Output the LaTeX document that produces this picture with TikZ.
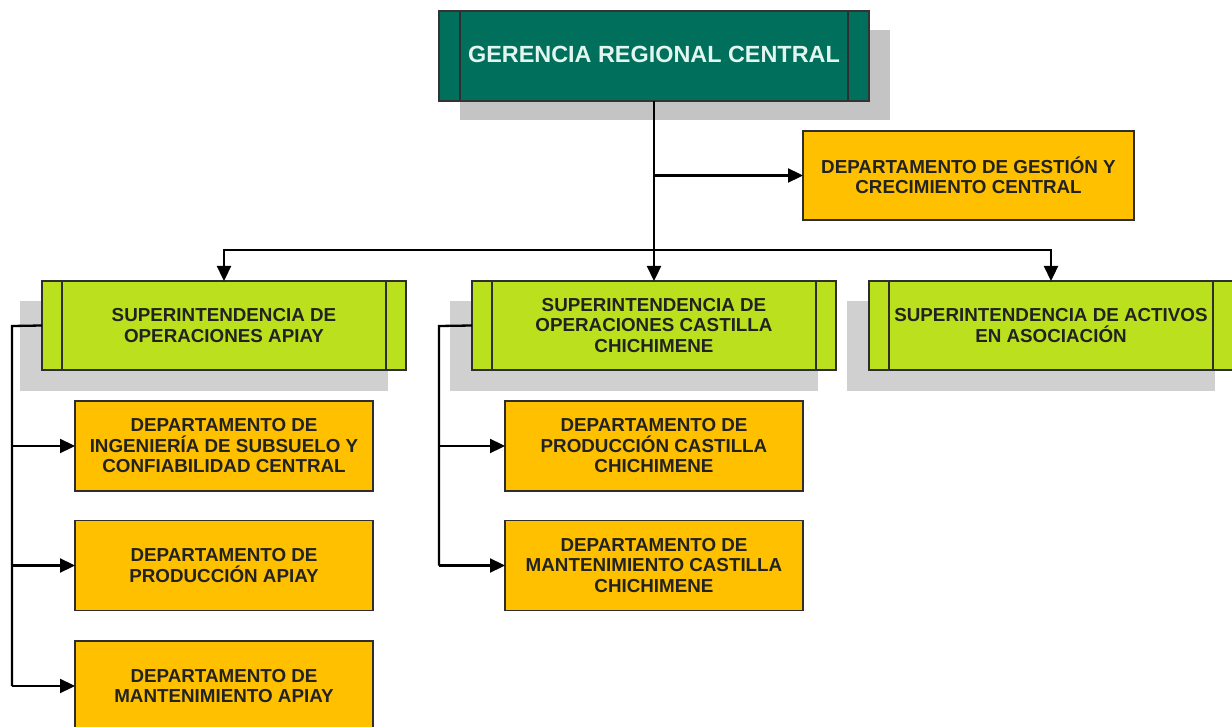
\documentclass[tikz,border=0pt]{standalone}
\usepackage{fontspec}
\setmainfont{Liberation Sans}
\usetikzlibrary{arrows.meta,shadows}
\definecolor{topgreen}{HTML}{006F5B}
\definecolor{toptext}{HTML}{E2F6EF}
\definecolor{lime}{HTML}{BBE11E}
\definecolor{amber}{HTML}{FFC000}
\definecolor{shade}{HTML}{C4C4C4}
\definecolor{edge}{HTML}{2E2E2E}
\definecolor{ink}{HTML}{222222}
\begin{document}
\begin{tikzpicture}[x=1pt,y=-1pt,
  box/.style={draw=edge,line width=1.2pt,inner sep=0pt,outer sep=0pt,align=center,
    font=\bfseries\fontsize{18.8}{20.5}\selectfont,text=ink},
  sidebars/.style={path picture={\draw[edge,line width=1.2pt]
    ([xshift=#1]path picture bounding box.north west) -- ([xshift=#1]path picture bounding box.south west)
    ([xshift=-#1]path picture bounding box.north east) -- ([xshift=-#1]path picture bounding box.south east);}},
  headbox/.style={box,fill=topgreen,draw=black!80,text=toptext,sidebars=21pt,
    minimum width=430pt,minimum height=90pt,
    general shadow={fill=shade,shadow xshift=21pt,shadow yshift=-19pt}},
  supbox/.style={box,fill=lime,sidebars=20pt,minimum width=364pt,minimum height=89pt,
    general shadow={fill=shade!80,shadow xshift=-20pt,shadow yshift=-20pt,shadow scale=1.01}},
  deptbox/.style={box,fill=amber,minimum width=298pt,minimum height=90pt},
  link/.style={draw=black,line width=2.3pt},
  arr/.style={link,-{Triangle[length=15pt,width=14pt]}}
]
\useasboundingbox (0,0) rectangle (1232,727);

% head office
\node[headbox] (ger) at (654,56) {};
\node[font=\bfseries\fontsize{23.4}{27}\selectfont,text=toptext] (gertxt) at (654,54) {GERENCIA REGIONAL CENTRAL};

% staff department
\node[box,fill=amber,minimum width=331pt,minimum height=89pt] (gest) at (968.5,175.5)
  {DEPARTAMENTO DE GESTIÓN Y\\CRECIMIENTO CENTRAL};

% superintendencies
\node[supbox] (sapiay) at (224,325.5) {SUPERINTENDENCIA DE\\OPERACIONES APIAY};
\node[supbox] (scast) at (654,325.5) {SUPERINTENDENCIA DE\\OPERACIONES CASTILLA\\CHICHIMENE};
\node[supbox] (sact) at (1051,325.5) {SUPERINTENDENCIA DE ACTIVOS\\EN ASOCIACIÓN};

% departments under Apiay
\node[deptbox] (a1) at (224,446) {DEPARTAMENTO DE\\INGENIERÍA DE SUBSUELO Y\\CONFIABILIDAD CENTRAL};
\node[deptbox] (a2) at (224,565.5) {DEPARTAMENTO DE\\PRODUCCIÓN APIAY};
\node[deptbox] (a3) at (224,686) {DEPARTAMENTO DE\\MANTENIMIENTO APIAY};

% departments under Castilla
\node[deptbox] (c1) at (654,446) {DEPARTAMENTO DE\\PRODUCCIÓN CASTILLA\\CHICHIMENE};
\node[deptbox] (c2) at (654,565.5) {DEPARTAMENTO DE\\MANTENIMIENTO CASTILLA\\CHICHIMENE};

% connectors
\coordinate (bus) at (655,250);
\coordinate (lrail) at (12,326);
\coordinate (crail) at (439,326);

\draw[link] (ger.south) -- (ger.south |- bus);
\draw[arr] (ger.south |- gest.west) -- (gest.west);
\draw[link,line cap=rect] (sapiay.north |- bus) -- (sact.north |- bus);
\draw[arr] (sapiay.north |- bus) -- (sapiay.north);
\draw[arr] (scast.north |- bus) -- (scast.north);
\draw[arr] (sact.north |- bus) -- (sact.north);

\draw[link,line join=miter] (sapiay.west) -- (lrail) -- (lrail |- a3.west);
\draw[arr] (lrail |- a1.west) -- (a1.west);
\draw[arr] (lrail |- a2.west) -- (a2.west);
\draw[arr] (lrail |- a3.west) -- (a3.west);

\draw[link,line join=miter] (scast.west) -- (crail) -- (crail |- c2.west);
\draw[arr] (crail |- c1.west) -- (c1.west);
\draw[arr] (crail |- c2.west) -- (c2.west);
\end{tikzpicture}
\end{document}
